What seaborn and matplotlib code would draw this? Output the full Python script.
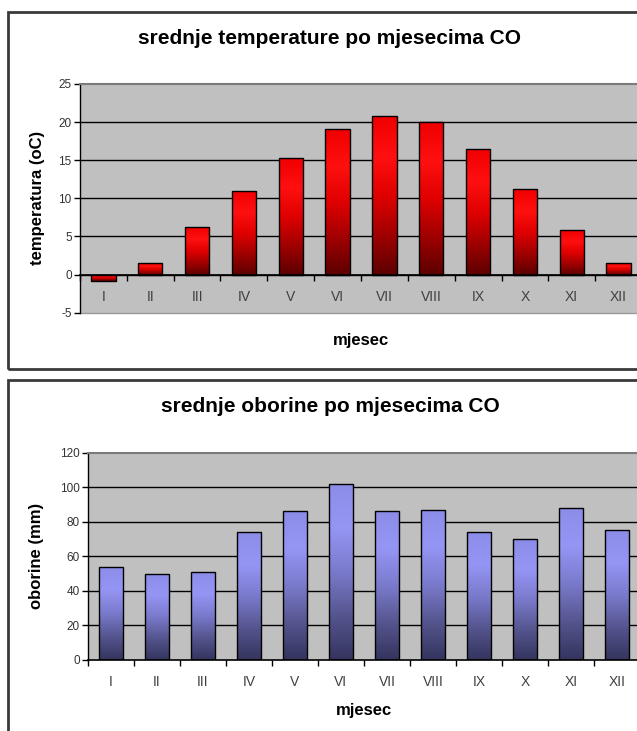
import numpy as np
import pandas as pd
import matplotlib
matplotlib.use("Agg")
import matplotlib.pyplot as plt
from matplotlib.patches import Rectangle
from matplotlib.colors import LinearSegmentedColormap
import seaborn as sns

months = ["I", "II", "III", "IV", "V", "VI", "VII", "VIII", "IX", "X", "XI", "XII"]
temperature = [-0.8, 1.5, 6.2, 11.0, 15.3, 19.1, 20.8, 20.0, 16.5, 11.2, 5.9, 1.5]
precipitation = [54, 50, 51, 74, 86, 102, 86, 87, 74, 70, 88, 75]
temp_ticks = [-5, 0, 5, 10, 15, 20, 25]
prec_ticks = [0, 20, 40, 60, 80, 100, 120]

title_temp = "srednje temperature po mjesecima CO"
title_prec = "srednje oborine po mjesecima CO"
ylabel_temp = "temperatura (oC)"
ylabel_prec = "oborine (mm)"
xlabel = "mjesec"

sns.set_theme(style="white")
plt.rcParams['font.family'] = ['Liberation Sans', 'DejaVu Sans']

W, H = 637, 731
fig = plt.figure(figsize=(W / 100, H / 100), dpi=100)
fig.patch.set_facecolor("white")


def fx(px):
    return px / W


def fy(py):
    return 1 - py / H


# chart frames
fig.add_artist(Rectangle((fx(8), fy(368.5)), 1.2, fy(12) - fy(368.5),
                         transform=fig.transFigure, fill=False,
                         edgecolor="#3a3a3a", lw=2.0))
fig.add_artist(Rectangle((fx(8), fy(760)), 1.2, fy(380) - fy(760),
                         transform=fig.transFigure, fill=False,
                         edgecolor="#3a3a3a", lw=2.0))

fig.text(fx(330), fy(39), title_temp, ha="center", va="center",
         fontsize=15, fontweight="bold", color="black")
fig.text(fx(330), fy(406), title_prec, ha="center", va="center",
         fontsize=15, fontweight="bold", color="black")

red_cmap = LinearSegmentedColormap.from_list(
    "red", ["#5c0000", "#a00000", "#e00000", "#ff1010", "#f00000"])
blue_cmap = LinearSegmentedColormap.from_list(
    "blue", ["#34345e", "#55558f", "#7a7acc", "#9595f5", "#8c8ce8"])


def draw_chart(ax, values, ticks, cmap, ylabel, label_y, ylabel_x, zero_axis):
    df = pd.DataFrame({"month": months, "value": values})
    sns.barplot(data=df, x="month", y="value", ax=ax, color="#cc0000",
                width=0.52, saturation=1, errorbar=None)
    ax.set_facecolor("#c0c0c0")
    ax.set_xlim(-0.5, len(months) - 0.5)
    ax.set_ylim(ticks[0], ticks[-1])
    ax.set_yticks(ticks)
    ax.set_yticklabels([str(t) for t in ticks], fontsize=8.5, color="#333333")
    ax.tick_params(axis="y", length=4, width=1, color="black", direction="out", pad=2, left=True)
    for t in ticks[1:-1]:
        ax.axhline(t, color="black", lw=1.0, zorder=0.5)

    grad = np.linspace(0, 1, 256).reshape(-1, 1)
    for p in list(ax.patches):
        x0, y0 = p.get_x(), p.get_y()
        w, h = p.get_width(), p.get_height()
        lo, hi = min(y0, y0 + h), max(y0, y0 + h)
        im = ax.imshow(grad, cmap=cmap, aspect="auto", origin="lower",
                       extent=(x0, x0 + w, lo, hi), zorder=2)
        im.set_clip_path(p)
        p.set_facecolor("none")
        p.set_edgecolor("black")
        p.set_linewidth(1.0)
        p.set_zorder(3)
    ax.set_xlim(-0.5, len(months) - 0.5)
    ax.set_ylim(ticks[0], ticks[-1])

    ax.spines["right"].set_visible(False)
    ax.spines["top"].set_color("#7a7a7a")
    ax.spines["top"].set_linewidth(1.5)
    ax.spines["left"].set_color("black")
    ax.spines["left"].set_linewidth(1.0)
    if zero_axis:
        ax.spines["bottom"].set_position(("data", 0))
        ax.axhline(ticks[0], color="#9a9a9a", lw=1.0, clip_on=False, zorder=0.5)
    ax.spines["bottom"].set_color("black")
    ax.spines["bottom"].set_linewidth(1.2)

    ax.set_xticks(range(len(months)))
    ax.set_xticklabels(months, fontsize=10, color="#404040")
    ax.set_xticks(np.arange(-0.5, len(months), 1.0), minor=True)
    ax.tick_params(axis="x", which="major", length=0, pad=11)
    ax.tick_params(axis="x", which="minor", length=4, width=1, color="black",
                   direction="out", bottom=True)

    ax.set_xlabel(xlabel, fontsize=12, fontweight="bold", color="black")
    ax.xaxis.label.set_verticalalignment("center")
    ax.xaxis.set_label_coords(0.5, label_y)
    ax.set_ylabel(ylabel, fontsize=12, fontweight="bold", color="black")
    ax.yaxis.label.set_verticalalignment("center")
    ax.yaxis.set_label_coords(ylabel_x, 0.5)


# top chart axes: left 80, right 642, top 84, bottom 312.7
ax1 = fig.add_axes([fx(80), fy(312.7), fx(642) - fx(80), fy(84) - fy(312.7)])
draw_chart(ax1, temperature, temp_ticks, red_cmap, ylabel_temp,
           (312.7 - 340) / (312.7 - 84), (38 - 80) / (642 - 80), True)

# bottom chart axes: left 88, right 640, top 452.7, bottom 660
ax2 = fig.add_axes([fx(88), fy(660), fx(640) - fx(88), fy(452.7) - fy(660)])
draw_chart(ax2, precipitation, prec_ticks, blue_cmap, ylabel_prec,
           (660 - 710) / (660 - 452.7), (37 - 88) / (640 - 88), False)

fig.savefig("out.png", dpi=100, facecolor="white")
